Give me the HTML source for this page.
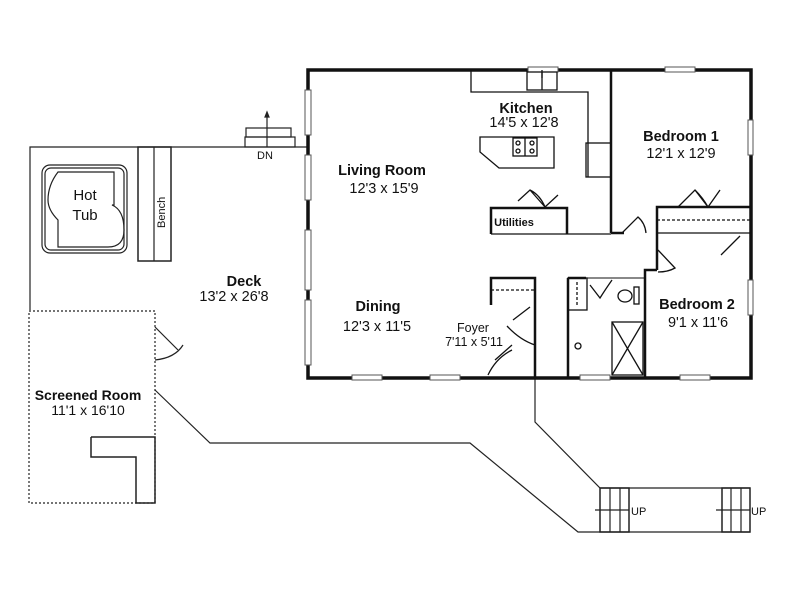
<!DOCTYPE html>
<html><head><style>body{margin:0;background:#fff}svg{display:block}text{font-family:"Liberation Sans",sans-serif;fill:#111}</style></head><body>
<svg width="800" height="600" viewBox="0 0 800 600" xmlns="http://www.w3.org/2000/svg">
<g fill="none" stroke="#222" stroke-width="1.2">
<polyline points="30,310 30,147 308,147"/>
<rect x="138" y="147" width="33" height="114" stroke-width="1.5"/>
<line x1="154" y1="147" x2="154" y2="261"/>
<rect x="42" y="165" width="85" height="88" rx="8"/>
<rect x="45" y="168" width="79" height="82" rx="6"/>
<path d="M58,172 H114 V205 H112 Q124,210 124,230 Q124,247 108,247 H58 V220 Q48,210 48,200 Q48,185 58,172Z"/>
<rect x="245" y="137" width="50" height="10"/><rect x="246" y="128" width="45" height="9"/>
<line x1="267" y1="115" x2="267" y2="147"/>
<polygon points="267,112 265,117 269,117" fill="#222"/>
<rect x="29" y="311" width="126" height="192" stroke-dasharray="2,2"/>
<polyline points="91,437 155,437 155,503 136,503 136,457 91,457 91,437" stroke-width="1.5"/>
<line x1="155" y1="327" x2="178" y2="350"/><path d="M155,360 Q175,358 183,345"/>
<polyline points="155,390 210,443 470,443 578,532 750,532"/>
<polyline points="535,378 535,422 600,488 750,488"/>
<rect x="600" y="488" width="29" height="44" stroke-width="1.5"/>
<line x1="610" y1="488" x2="610" y2="532"/><line x1="620" y1="488" x2="620" y2="532"/>
<line x1="595" y1="510" x2="629" y2="510"/>
<rect x="722" y="488" width="28" height="44" stroke-width="1.5"/>
<line x1="731" y1="488" x2="731" y2="532"/><line x1="741" y1="488" x2="741" y2="532"/>
<line x1="716" y1="510" x2="750" y2="510"/>
</g>
<rect x="308" y="70" width="443" height="308" fill="none" stroke="#111" stroke-width="3.5"/>
<g fill="#fff" stroke="#555" stroke-width="1">
<rect x="305" y="90" width="6" height="45"/><rect x="305" y="155" width="6" height="45"/><rect x="305" y="230" width="6" height="60"/><rect x="305" y="300" width="6" height="65"/>
<rect x="352" y="375" width="30" height="5"/><rect x="430" y="375" width="30" height="5"/><rect x="580" y="375" width="30" height="5"/><rect x="680" y="375" width="30" height="5"/>
<rect x="665" y="67" width="30" height="5"/><rect x="748" y="120" width="5" height="35"/><rect x="748" y="280" width="5" height="35"/><rect x="528" y="67" width="30" height="5"/>
</g>
<g fill="none" stroke="#111" stroke-width="1.3">
<polyline points="471,70 471,92 588,92 588,177"/>
<rect x="586" y="143" width="25" height="34"/>
<rect x="527" y="72" width="30" height="18"/><line x1="542" y1="72" x2="542" y2="90"/>
<line x1="542" y1="70" x2="542" y2="78"/>
<polygon points="480,137 554,137 554,168 499,168 480,152"/>
<rect x="513" y="138" width="24" height="18"/>
<line x1="525" y1="138" x2="525" y2="156"/>
<circle cx="518" cy="143" r="2"/><circle cx="518" cy="151" r="2"/><circle cx="532" cy="143" r="2"/><circle cx="532" cy="151" r="2"/>
<line x1="611" y1="70" x2="611" y2="233" stroke-width="2.5"/>
<polyline points="611,233 624,233" stroke-width="2.5"/>
<polyline points="657,270 657,207 751,207" stroke-width="2.5"/>
<line x1="657" y1="220" x2="751" y2="220" stroke-dasharray="3,2"/>
<line x1="657" y1="233" x2="751" y2="233"/>
<polyline points="491,234 491,208 567,208 567,234" stroke-width="2.5"/>
<line x1="491" y1="234" x2="611" y2="234"/>
<polyline points="657,270 645,270 645,378" stroke-width="2.5"/>
<polyline points="491,305 491,278 535,278 535,378" stroke-width="2.5"/>
<line x1="491" y1="290" x2="535" y2="290" stroke-dasharray="3,2"/>
<line x1="568" y1="278" x2="568" y2="378" stroke-width="2.5"/>
<line x1="568" y1="278" x2="586" y2="278" stroke-width="2.5"/>
<line x1="586" y1="278" x2="645" y2="278" stroke-width="1"/>
<rect x="568" y="278" width="19" height="32"/>
<line x1="577" y1="282" x2="577" y2="306" stroke-dasharray="3,2"/>
<rect x="612" y="322" width="31" height="53"/>
<line x1="612" y1="322" x2="643" y2="375"/><line x1="643" y1="322" x2="612" y2="375"/>
<ellipse cx="625" cy="296" rx="7" ry="6"/><rect x="634" y="287" width="5" height="17"/>
<circle cx="578" cy="346" r="3"/>
<path d="M518,201 L530,190 Q540,195 545,207 L558,195 M530,190 L545,207"/>
<path d="M678,207 L695,190 Q703,198 708,207 L720,190 M708,207 L695,190"/>
<path d="M622,233 L638,217 Q645,223 646,233"/>
<path d="M658,250 L675,268 Q668,272 658,272"/>
<path d="M721,255 L740,236"/>
<path d="M513,320 L530,307 M507,326 Q520,340 535,345"/>
<path d="M495,360 L512,345 M488,375 Q496,358 512,350"/>
<path d="M590,285 L600,298 Q605,290 612,280"/>
</g>
<g font-size="14.5">
<text x="244" y="286" font-weight="bold" text-anchor="middle">Deck</text>
<text x="234" y="301" text-anchor="middle">13'2 x 26'8</text>
<text x="85" y="200" text-anchor="middle" font-size="15">Hot</text>
<text x="85" y="220" text-anchor="middle" font-size="15">Tub</text>
<text x="165" y="228" font-size="11" transform="rotate(-90 165 228)">Bench</text>
<text x="265" y="159" text-anchor="middle" font-size="11">DN</text>
<text x="88" y="400" font-weight="bold" text-anchor="middle" font-size="14">Screened Room</text>
<text x="88" y="415" text-anchor="middle" font-size="14">11'1 x 16'10</text>
<text x="382" y="175" font-weight="bold" text-anchor="middle">Living Room</text>
<text x="384" y="193" text-anchor="middle">12'3 x 15'9</text>
<text x="526" y="113" font-weight="bold" text-anchor="middle">Kitchen</text>
<text x="524" y="127" text-anchor="middle">14'5 x 12'8</text>
<text x="681" y="141" font-weight="bold" text-anchor="middle">Bedroom 1</text>
<text x="681" y="158" text-anchor="middle">12'1 x 12'9</text>
<text x="514" y="226" font-weight="bold" font-size="11" text-anchor="middle">Utilities</text>
<text x="378" y="311" font-weight="bold" text-anchor="middle">Dining</text>
<text x="377" y="331" text-anchor="middle">12'3 x 11'5</text>
<text x="473" y="332" text-anchor="middle" font-size="12.5">Foyer</text>
<text x="474" y="346" text-anchor="middle" font-size="12.5">7'11 x 5'11</text>
<text x="697" y="309" font-weight="bold" text-anchor="middle">Bedroom 2</text>
<text x="698" y="327" text-anchor="middle">9'1 x 11'6</text>
<text x="631" y="515" font-size="11">UP</text>
<text x="751" y="515" font-size="11">UP</text>
</g>
</svg>
</body></html>
